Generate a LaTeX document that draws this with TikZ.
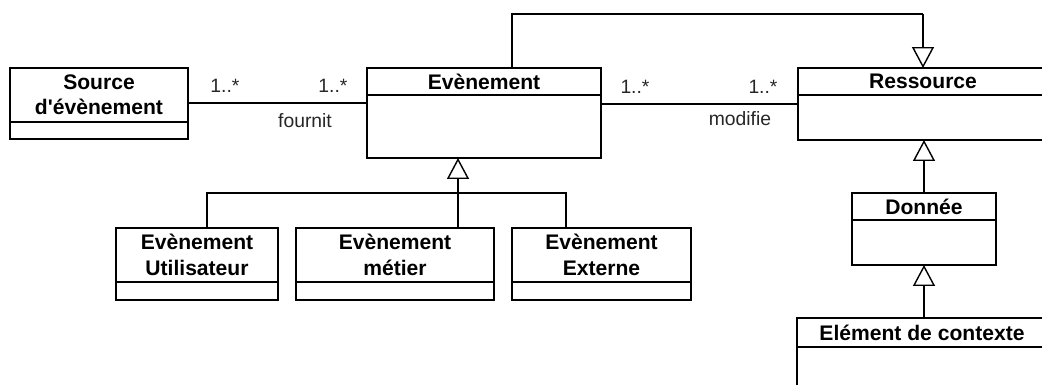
\documentclass[tikz,border=0pt]{standalone}
\usepackage{fontspec}
\setmainfont{Liberation Sans}[Ligatures=TeXOff]
\usetikzlibrary{arrows.meta,calc}
\tikzset{
    CLASS_TITLE/.style={draw=black, shape=rectangle, line width=0.8pt,
        inner sep=0mm, outer sep=0mm, align=center,
        font={\fontsize{12}{14.5}\selectfont\bfseries}},
    CLASS_BODY/.style={draw=black, shape=rectangle, line width=0.8pt,
        inner sep=0mm, outer sep=0mm},
    ROLE/.style={inner sep=0mm, text=black!85,
        font={\fontsize{11}{13}\selectfont}},
    EDGE/.style={draw=black, line width=0.8pt},
    INHERIT/.style={EDGE, -{Triangle[open, length=0.42cm, width=0.44cm]}}
}
\pgfdeclarelayer{edgelayer}
\pgfdeclarelayer{nodelayer}
\pgfsetlayers{edgelayer,nodelayer,main}

\begin{document}
\begin{tikzpicture}[x=0.02cm, y=-0.02cm]
    \useasboundingbox (0,0) rectangle (1042,385);
    \clip (0,0) rectangle (1042,385);
    \begin{pgfonlayer}{nodelayer}
        % classes
        \node [CLASS_TITLE, minimum width=3.56cm, minimum height=1.08cm] (src_t) at (99, 95) {Source\\d'évènement};
        \node [CLASS_BODY, minimum width=3.56cm, minimum height=0.34cm] (src_b) at (99, 130.5) {};
        \node [CLASS_TITLE, minimum width=4.68cm, minimum height=0.54cm] (evt_t) at (484, 81.5) {Evènement};
        \node [CLASS_BODY, minimum width=4.68cm, minimum height=1.26cm] (evt_b) at (484, 126.5) {};
        \node [CLASS_TITLE, minimum width=5cm, minimum height=0.54cm] (res_t) at (923, 81.5) {Ressource};
        \node [CLASS_BODY, minimum width=5cm, minimum height=0.9cm] (res_b) at (923, 117.5) {};
        \node [CLASS_TITLE, minimum width=2.88cm, minimum height=0.54cm] (don_t) at (924, 206.5) {Donnée};
        \node [CLASS_BODY, minimum width=2.88cm, minimum height=0.9cm] (don_b) at (924, 242.5) {};
        \node [CLASS_TITLE, minimum width=5cm, minimum height=0.58cm] (elt_t) at (922, 332.5) {Elément de contexte};
        \node [CLASS_BODY, minimum width=5cm, minimum height=1.46cm] (elt_b) at (922, 383.5) {};
        \node [CLASS_TITLE, minimum width=3.24cm, minimum height=1.08cm] (utl_t) at (197, 255) {Evènement\\Utilisateur};
        \node [CLASS_BODY, minimum width=3.24cm, minimum height=0.36cm] (utl_b) at (197, 291) {};
        \node [CLASS_TITLE, minimum width=3.96cm, minimum height=1.08cm] (met_t) at (395, 255) {Evènement\\métier};
        \node [CLASS_BODY, minimum width=3.96cm, minimum height=0.36cm] (met_b) at (395, 291) {};
        \node [CLASS_TITLE, minimum width=3.58cm, minimum height=1.08cm] (ext_t) at (601.5, 255) {Evènement\\Externe};
        \node [CLASS_BODY, minimum width=3.58cm, minimum height=0.36cm] (ext_b) at (601.5, 291) {};
        % roles and multiplicities
        \node [ROLE] (m1) at (225, 86) {1..*};
        \node [ROLE] (m2) at (333, 86) {1..*};
        \node [ROLE] (fournit) at (305, 121) {fournit};
        \node [ROLE] (m3) at (635, 87) {1..*};
        \node [ROLE] (m4) at (763, 87) {1..*};
        \node [ROLE] (modifie) at (740, 119) {modifie};
    \end{pgfonlayer}
    \begin{pgfonlayer}{edgelayer}
        \coordinate (fournit_a) at ($(src_t.east)+(0,8)$);
        \coordinate (modifie_a) at ($(evt_b.east)+(0,-22.5)$);
        \coordinate (top_bend) at ($(res_t.north)+(0,-54)$);
        \coordinate (gen_evt) at (458, 193);
        \draw[EDGE] (fournit_a) to (fournit_a -| evt_b.west);
        \draw[EDGE] (modifie_a) to (modifie_a -| res_b.west);
        \draw[EDGE] ($(evt_t.north)+(28,0)$) |- (top_bend);
        \draw[INHERIT] (top_bend) to (res_t.north);
        \draw[INHERIT] (gen_evt) to (gen_evt |- evt_b.south);
        \draw[EDGE] ($(utl_t.north)+(10,0)$) |- (gen_evt);
        \draw[EDGE] ($(ext_t.north)+(-35.5,0)$) |- (gen_evt);
        \draw[EDGE] ($(met_t.north)+(63,0)$) to (gen_evt);
        \draw[INHERIT] (don_t.north) to (don_t.north |- res_b.south);
        \draw[INHERIT] (don_t.north |- elt_t.north) to (don_b.south);
    \end{pgfonlayer}
\end{tikzpicture}
\end{document}
